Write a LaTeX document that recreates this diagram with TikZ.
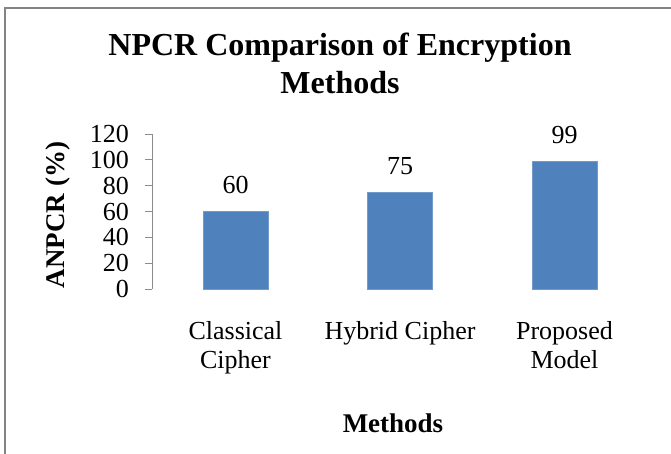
\documentclass[tikz,border=0pt]{standalone}
\usepackage{fontspec}
\setmainfont{Liberation Serif}
\definecolor{barblue}{HTML}{4F81BD}
\definecolor{framegray}{HTML}{848484}
\definecolor{axisgray}{HTML}{8C8C8C}
\begin{document}
\begin{tikzpicture}[x=1pt,y=-1pt,
  titlefont/.style={font=\fontsize{32}{38}\selectfont\bfseries},
  axlabel/.style={font=\fontsize{27}{32}\selectfont\bfseries},
  ticklabel/.style={font=\fontsize{26}{28}\selectfont, inner sep=0pt, anchor=base east},
  vallabel/.style={font=\fontsize{26}{28}\selectfont, inner sep=0pt, anchor=base},
  catlabel/.style={font=\fontsize{26}{28}\selectfont, inner sep=0pt, anchor=base},
  bar/.style={fill=barblue, draw=barblue!80!white, line width=0.6pt}]
\useasboundingbox (0,0) rectangle (671,454);
% chart frame (only left and top edges fall inside the page)
\draw[framegray, line width=2pt] (5,455) -- (5,8) -- (672,8);

% title
\node[titlefont, inner sep=0pt, anchor=base] (t1) at (340,56) {NPCR Comparison of Encryption};
\node[titlefont, inner sep=0pt, anchor=base] (t2) at (340,94) {Methods};

% value axis: 0 at y=289, 20 units per 25.83pt
\draw[axisgray, line width=0.8pt] (152,134) -- (152,289);
\foreach \v [count=\i from 0] in {0,20,40,60,80,100,120} {
  \pgfmathsetmacro{\yy}{289-\i*25.83}
  \draw[axisgray, line width=0.8pt] (145,\yy) -- (152,\yy);
  \node[ticklabel] (tick\i) at (129,\yy+8.5) {\v};
}

% axis titles
\node[axlabel, rotate=90, inner sep=0pt, anchor=base] (ylab) at (64,215) {ANPCR (\%)};
\node[axlabel, inner sep=0pt, anchor=base] (xlab) at (393,432) {Methods};

% bars
\foreach \cx/\val/\nm in {235.5/60/b1, 400/75/b2, 564.5/99/b3} {
  \pgfmathsetmacro{\top}{289-\val*1.2915}
  \draw[bar] (\cx-32.5,289) rectangle (\cx+32.5,\top);
  \node[vallabel] (\nm) at (\cx,\top-18) {\val};
}

% category labels
\node[catlabel] (c1a) at (235.5,339) {Classical};
\node[catlabel] (c1b) at (235.5,368) {Cipher};
\node[catlabel] (c2) at (400,339) {Hybrid Cipher};
\node[catlabel] (c3a) at (564.5,339) {Proposed};
\node[catlabel] (c3b) at (564.5,368) {Model};
\end{tikzpicture}
\end{document}
